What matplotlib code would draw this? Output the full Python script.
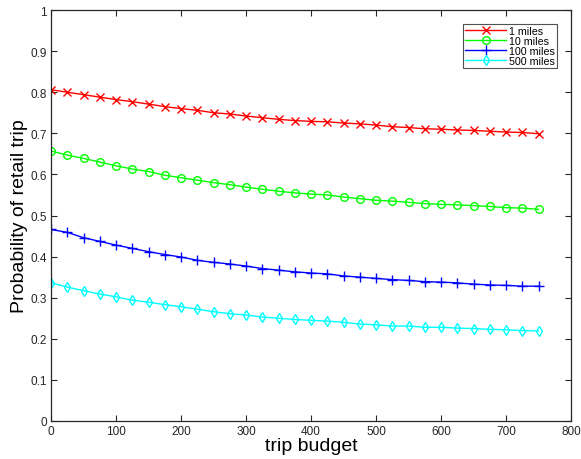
import numpy as np
import matplotlib.pyplot as plt

plt.rcParams['font.family'] = ['Liberation Sans', 'DejaVu Sans']

# trip budget grid
budget = np.arange(0, 751, 25)

# probability of a retail trip for each distance band
p_1mi = [0.806, 0.800, 0.794, 0.788, 0.782, 0.777, 0.771, 0.765, 0.760, 0.756,
         0.750, 0.747, 0.742, 0.738, 0.734, 0.731, 0.729, 0.728, 0.725, 0.723,
         0.720, 0.716, 0.714, 0.711, 0.710, 0.708, 0.707, 0.705, 0.703, 0.702, 0.699]
p_10mi = [0.657, 0.647, 0.639, 0.630, 0.621, 0.613, 0.607, 0.598, 0.592, 0.586,
          0.580, 0.575, 0.569, 0.564, 0.559, 0.555, 0.552, 0.550, 0.545, 0.541,
          0.537, 0.535, 0.532, 0.529, 0.527, 0.526, 0.524, 0.522, 0.519, 0.518, 0.515]
p_100mi = [0.466, 0.459, 0.446, 0.437, 0.428, 0.420, 0.412, 0.405, 0.399, 0.391,
           0.386, 0.382, 0.377, 0.371, 0.367, 0.363, 0.360, 0.358, 0.353, 0.350,
           0.347, 0.344, 0.342, 0.339, 0.338, 0.336, 0.333, 0.331, 0.330, 0.328, 0.328]
p_500mi = [0.336, 0.326, 0.317, 0.309, 0.302, 0.294, 0.289, 0.283, 0.278, 0.272,
           0.266, 0.261, 0.258, 0.253, 0.250, 0.247, 0.245, 0.243, 0.240, 0.236,
           0.234, 0.231, 0.231, 0.228, 0.228, 0.226, 0.225, 0.223, 0.222, 0.220, 0.219]

labels = ['1 miles', '10 miles', '100 miles', '500 miles']
colors = ['#ff0000', '#00ff00', '#0000ff', '#00ffff']
markers = ['x', 'o', '+', 'd']

fig = plt.figure(figsize=(5.81, 4.60), dpi=100)
ax = fig.add_axes([51 / 581, 38 / 460, 520 / 581, 411 / 460])

for ys, lab, c, m in zip([p_1mi, p_10mi, p_100mi, p_500mi], labels, colors, markers):
    ms = 7 if m == '+' else 5.5
    ax.plot(budget, ys, color=c, marker=m, markersize=ms, markerfacecolor='none',
            markeredgecolor=c, markeredgewidth=1.0, linewidth=1.0, label=lab)

ax.set_xlim(0, 800)
ax.set_ylim(0, 1)
ax.set_xticks(np.arange(0, 801, 100))
ax.set_yticks(np.round(np.arange(0, 1.01, 0.1), 1))
ax.set_yticklabels(['0', '0.1', '0.2', '0.3', '0.4', '0.5', '0.6', '0.7', '0.8', '0.9', '1'])
ax.tick_params(direction='in', top=True, right=True, length=4, width=0.8,
               labelsize=8.5, colors='#262626', pad=3)
for s in ax.spines.values():
    s.set_linewidth(0.9)
    s.set_color('#262626')

ax.set_xlabel('trip budget', fontsize=14, labelpad=0)
ax.set_ylabel('Probability of retail trip', fontsize=14, labelpad=2)

leg = ax.legend(loc='upper right', fontsize=7.7, frameon=True, fancybox=False,
                edgecolor='#262626', handlelength=3.8, borderpad=0.2,
                labelspacing=0.0, handletextpad=0.3, borderaxespad=1.3)
leg.get_frame().set_linewidth(0.8)

fig.savefig('out.png', dpi=100)
